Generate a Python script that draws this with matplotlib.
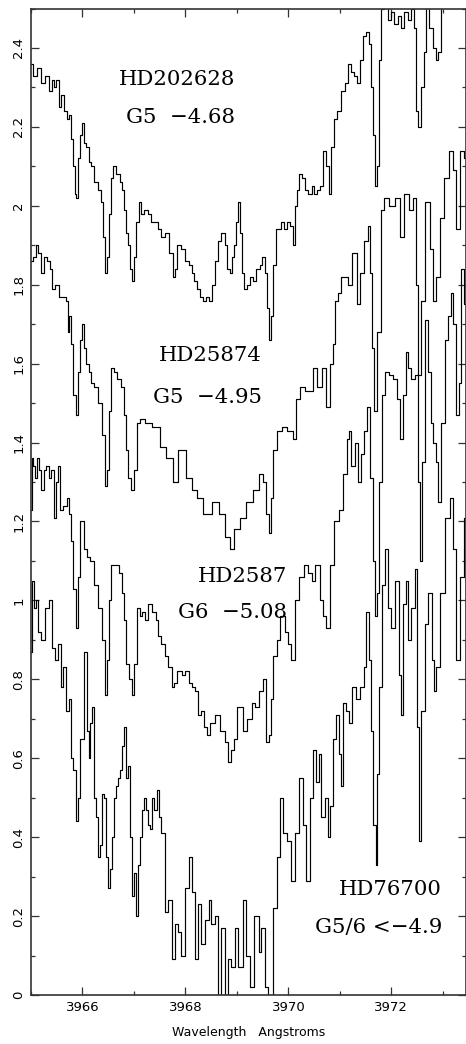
import numpy as np
import matplotlib
matplotlib.use("Agg")
from matplotlib import pyplot as plt
from matplotlib.ticker import MultipleLocator, FormatStrFormatter

# wavelength (Angstroms) and relative flux, one pair per star

wl_hd202628 = [3965.00, 3965.08, 3965.14, 3965.23, 3965.31, 3965.37, 3965.43, 3965.47, 3965.52, 3965.56,
               3965.62, 3965.66, 3965.72, 3965.76, 3965.80, 3965.83, 3965.87, 3965.89, 3965.93, 3965.97,
               3966.01, 3966.05, 3966.09, 3966.15, 3966.20, 3966.26, 3966.34, 3966.38, 3966.42, 3966.46,
               3966.50, 3966.53, 3966.57, 3966.63, 3966.69, 3966.75, 3966.79, 3966.83, 3966.86, 3966.90,
               3966.94, 3966.98, 3967.02, 3967.06, 3967.12, 3967.17, 3967.23, 3967.31, 3967.37, 3967.43,
               3967.50, 3967.56, 3967.64, 3967.72, 3967.78, 3967.82, 3967.87, 3967.95, 3968.03, 3968.09,
               3968.15, 3968.20, 3968.26, 3968.32, 3968.38, 3968.43, 3968.50, 3968.55, 3968.61, 3968.67,
               3968.73, 3968.79, 3968.84, 3968.88, 3968.92, 3968.96, 3969.00, 3969.04, 3969.08, 3969.12,
               3969.17, 3969.23, 3969.29, 3969.35, 3969.41, 3969.47, 3969.52, 3969.56, 3969.60, 3969.64,
               3969.67, 3969.72, 3969.78, 3969.83, 3969.89, 3969.95, 3970.01, 3970.07, 3970.11, 3970.15,
               3970.18, 3970.24, 3970.30, 3970.36, 3970.42, 3970.48, 3970.53, 3970.59, 3970.65, 3970.71,
               3970.75, 3970.81, 3970.86, 3970.92, 3970.98, 3971.06, 3971.12, 3971.19, 3971.25, 3971.31,
               3971.37, 3971.42, 3971.49, 3971.54, 3971.58, 3971.62, 3971.66, 3971.70, 3971.74, 3971.78,
               3971.83, 3971.89, 3971.97, 3972.03, 3972.09, 3972.17, 3972.22, 3972.28, 3972.36, 3972.42,
               3972.46, 3972.50, 3972.55, 3972.61, 3972.65, 3972.71, 3972.77, 3972.83, 3972.89, 3972.94,
               3973.00, 3973.08, 3973.17, 3973.29, 3973.45]
fx_hd202628 = [2.36, 2.33, 2.35, 2.31, 2.33, 2.29, 2.32, 2.30, 2.32, 2.25,
               2.28, 2.24, 2.22, 2.23, 2.17, 2.10, 2.03, 2.02, 2.12, 2.18,
               2.21, 2.16, 2.15, 2.11, 2.10, 2.06, 2.04, 2.01, 1.92, 1.83,
               1.87, 1.98, 2.07, 2.10, 2.08, 2.06, 2.04, 1.99, 1.93, 1.90,
               1.84, 1.81, 1.87, 1.96, 2.01, 1.98, 1.99, 1.98, 1.96, 1.96,
               1.94, 1.92, 1.93, 1.88, 1.82, 1.84, 1.90, 1.89, 1.86, 1.85,
               1.83, 1.81, 1.79, 1.77, 1.76, 1.77, 1.76, 1.80, 1.86, 1.91,
               1.93, 1.90, 1.84, 1.83, 1.87, 1.90, 1.96, 2.01, 1.93, 1.83,
               1.79, 1.80, 1.82, 1.81, 1.84, 1.85, 1.87, 1.83, 1.74, 1.66,
               1.72, 1.85, 1.94, 1.94, 1.96, 1.94, 1.96, 1.95, 1.90, 2.00,
               2.04, 2.08, 2.07, 2.04, 2.03, 2.05, 2.03, 2.04, 2.05, 2.14,
               2.10, 2.03, 2.15, 2.22, 2.24, 2.29, 2.31, 2.36, 2.34, 2.33,
               2.31, 2.37, 2.43, 2.44, 2.41, 2.30, 2.18, 2.05, 2.10, 2.37,
               2.50, 2.52, 2.47, 2.49, 2.46, 2.48, 2.45, 2.49, 2.47, 2.50,
               2.45, 2.24, 2.20, 2.30, 2.39, 2.52, 2.45, 2.40, 2.37, 2.39,
               2.52, 2.58, 2.60, 2.60, 2.60]

wl_hd25874 = [3965.00, 3965.06, 3965.12, 3965.17, 3965.23, 3965.29, 3965.33, 3965.39, 3965.43, 3965.50,
              3965.60, 3965.66, 3965.70, 3965.72, 3965.76, 3965.80, 3965.85, 3965.89, 3965.93, 3965.97,
              3966.01, 3966.05, 3966.09, 3966.15, 3966.20, 3966.26, 3966.34, 3966.40, 3966.46, 3966.50,
              3966.53, 3966.59, 3966.65, 3966.71, 3966.77, 3966.83, 3966.86, 3966.92, 3966.98, 3967.02,
              3967.08, 3967.16, 3967.25, 3967.45, 3967.56, 3967.70, 3967.80, 3967.93, 3968.09, 3968.18,
              3968.28, 3968.42, 3968.61, 3968.71, 3968.83, 3968.90, 3969.00, 3969.12, 3969.25, 3969.39,
              3969.47, 3969.54, 3969.60, 3969.64, 3969.68, 3969.74, 3969.83, 3969.93, 3970.03, 3970.13,
              3970.18, 3970.28, 3970.38, 3970.46, 3970.51, 3970.61, 3970.71, 3970.77, 3970.84, 3970.88,
              3970.94, 3971.00, 3971.06, 3971.14, 3971.19, 3971.29, 3971.37, 3971.43, 3971.52, 3971.56,
              3971.62, 3971.64, 3971.70, 3971.76, 3971.82, 3971.91, 3972.01, 3972.13, 3972.20, 3972.30,
              3972.38, 3972.46, 3972.50, 3972.55, 3972.61, 3972.71, 3972.79, 3972.84, 3972.90, 3972.98,
              3973.08, 3973.17, 3973.23, 3973.29, 3973.37, 3973.45]
fx_hd25874 = [1.86, 1.87, 1.90, 1.88, 1.83, 1.87, 1.86, 1.84, 1.79, 1.80,
              1.77, 1.77, 1.76, 1.68, 1.72, 1.65, 1.52, 1.47, 1.58, 1.66,
              1.70, 1.64, 1.60, 1.58, 1.55, 1.54, 1.50, 1.42, 1.29, 1.33,
              1.48, 1.59, 1.58, 1.56, 1.54, 1.47, 1.38, 1.31, 1.28, 1.33,
              1.45, 1.46, 1.45, 1.44, 1.39, 1.36, 1.30, 1.38, 1.31, 1.28,
              1.26, 1.22, 1.25, 1.22, 1.16, 1.13, 1.18, 1.21, 1.25, 1.28,
              1.32, 1.30, 1.22, 1.17, 1.26, 1.38, 1.43, 1.44, 1.43, 1.41,
              1.51, 1.54, 1.53, 1.53, 1.59, 1.54, 1.59, 1.49, 1.60, 1.65,
              1.76, 1.78, 1.82, 1.82, 1.80, 1.88, 1.75, 1.83, 1.91, 1.95,
              1.83, 1.64, 1.48, 1.68, 1.99, 2.02, 2.00, 2.02, 1.92, 2.03,
              1.99, 2.02, 1.80, 1.57, 1.76, 2.01, 1.89, 1.76, 1.82, 1.97,
              2.07, 2.14, 2.09, 1.94, 2.14, 2.12]

wl_hd2587 = [3965.00, 3965.02, 3965.06, 3965.10, 3965.14, 3965.17, 3965.23, 3965.27, 3965.31, 3965.37,
             3965.41, 3965.47, 3965.50, 3965.54, 3965.60, 3965.66, 3965.72, 3965.76, 3965.80, 3965.85,
             3965.89, 3965.93, 3965.99, 3966.05, 3966.11, 3966.17, 3966.20, 3966.26, 3966.34, 3966.40,
             3966.46, 3966.50, 3966.53, 3966.59, 3966.67, 3966.73, 3966.79, 3966.83, 3966.88, 3966.94,
             3966.98, 3967.02, 3967.08, 3967.14, 3967.19, 3967.25, 3967.31, 3967.39, 3967.45, 3967.50,
             3967.56, 3967.64, 3967.70, 3967.76, 3967.80, 3967.89, 3967.97, 3968.03, 3968.09, 3968.17,
             3968.22, 3968.28, 3968.33, 3968.38, 3968.44, 3968.53, 3968.63, 3968.71, 3968.81, 3968.86,
             3968.92, 3968.96, 3969.06, 3969.16, 3969.25, 3969.33, 3969.39, 3969.47, 3969.54, 3969.60,
             3969.64, 3969.68, 3969.74, 3969.80, 3969.89, 3969.97, 3970.03, 3970.09, 3970.17, 3970.26,
             3970.34, 3970.42, 3970.48, 3970.57, 3970.65, 3970.71, 3970.77, 3970.84, 3970.94, 3971.04,
             3971.10, 3971.16, 3971.19, 3971.25, 3971.33, 3971.39, 3971.45, 3971.50, 3971.56, 3971.62,
             3971.66, 3971.70, 3971.74, 3971.78, 3971.84, 3971.91, 3971.99, 3972.07, 3972.15, 3972.20,
             3972.26, 3972.30, 3972.36, 3972.42, 3972.50, 3972.53, 3972.57, 3972.63, 3972.69, 3972.75,
             3972.79, 3972.84, 3972.88, 3972.94, 3973.00, 3973.08, 3973.14, 3973.17, 3973.23, 3973.29,
             3973.33, 3973.39, 3973.45]
fx_hd2587 = [1.23, 1.36, 1.34, 1.31, 1.36, 1.33, 1.28, 1.33, 1.34, 1.31,
             1.33, 1.21, 1.30, 1.34, 1.23, 1.24, 1.26, 1.22, 1.15, 1.03,
             0.93, 1.06, 1.20, 1.13, 1.11, 1.10, 1.10, 1.04, 0.98, 0.90,
             0.76, 0.85, 1.00, 1.09, 1.09, 1.07, 1.02, 0.95, 0.84, 0.80,
             0.76, 0.84, 0.98, 0.96, 0.97, 0.95, 0.99, 0.97, 0.95, 0.91,
             0.89, 0.86, 0.83, 0.78, 0.79, 0.82, 0.81, 0.82, 0.79, 0.78,
             0.77, 0.71, 0.72, 0.68, 0.66, 0.69, 0.71, 0.67, 0.64, 0.59,
             0.62, 0.65, 0.73, 0.67, 0.70, 0.74, 0.73, 0.77, 0.80, 0.64,
             0.66, 0.75, 0.86, 0.90, 0.96, 0.92, 0.89, 0.85, 1.00, 1.06,
             1.09, 1.07, 1.05, 1.09, 1.00, 0.96, 0.93, 1.09, 1.20, 1.23,
             1.32, 1.41, 1.43, 1.34, 1.40, 1.30, 1.37, 1.43, 1.49, 1.31,
             1.10, 0.96, 1.02, 1.30, 1.52, 1.58, 1.57, 1.56, 1.51, 1.41,
             1.52, 1.63, 1.59, 1.56, 1.57, 1.30, 1.10, 1.35, 1.71, 1.58,
             1.45, 1.40, 1.35, 1.25, 1.45, 1.66, 1.72, 1.78, 1.70, 1.47,
             1.55, 1.84, 1.75]

wl_hd76700 = [3965.00, 3965.04, 3965.08, 3965.12, 3965.17, 3965.23, 3965.31, 3965.37, 3965.43, 3965.50,
              3965.56, 3965.60, 3965.66, 3965.70, 3965.76, 3965.80, 3965.85, 3965.89, 3965.93, 3965.99,
              3966.05, 3966.11, 3966.13, 3966.17, 3966.20, 3966.24, 3966.28, 3966.32, 3966.36, 3966.40,
              3966.44, 3966.48, 3966.51, 3966.55, 3966.59, 3966.63, 3966.67, 3966.71, 3966.75, 3966.79,
              3966.83, 3966.86, 3966.90, 3966.94, 3966.98, 3967.02, 3967.06, 3967.10, 3967.14, 3967.17,
              3967.21, 3967.25, 3967.29, 3967.33, 3967.37, 3967.41, 3967.47, 3967.50, 3967.56, 3967.64,
              3967.70, 3967.76, 3967.83, 3967.89, 3967.95, 3968.03, 3968.09, 3968.15, 3968.22, 3968.28,
              3968.34, 3968.42, 3968.48, 3968.53, 3968.61, 3968.67, 3968.73, 3968.81, 3968.86, 3968.92,
              3969.00, 3969.06, 3969.16, 3969.21, 3969.29, 3969.39, 3969.45, 3969.50, 3969.58, 3969.62,
              3969.68, 3969.74, 3969.80, 3969.87, 3969.93, 3970.03, 3970.09, 3970.17, 3970.26, 3970.32,
              3970.38, 3970.46, 3970.51, 3970.57, 3970.61, 3970.67, 3970.75, 3970.79, 3970.84, 3970.90,
              3970.96, 3971.00, 3971.04, 3971.08, 3971.16, 3971.21, 3971.27, 3971.35, 3971.43, 3971.49,
              3971.54, 3971.58, 3971.62, 3971.68, 3971.72, 3971.74, 3971.78, 3971.84, 3971.91, 3971.97,
              3972.03, 3972.11, 3972.17, 3972.20, 3972.26, 3972.30, 3972.36, 3972.42, 3972.50, 3972.51,
              3972.55, 3972.61, 3972.69, 3972.75, 3972.81, 3972.84, 3972.90, 3973.00, 3973.10, 3973.17,
              3973.23, 3973.29, 3973.37, 3973.45]
fx_hd76700 = [0.87, 1.05, 0.98, 1.00, 0.92, 0.90, 0.98, 1.00, 0.88, 0.85,
              0.89, 0.78, 0.83, 0.72, 0.75, 0.60, 0.57, 0.44, 0.50, 0.65,
              0.87, 0.67, 0.60, 0.69, 0.73, 0.50, 0.45, 0.35, 0.38, 0.51,
              0.50, 0.35, 0.27, 0.32, 0.40, 0.50, 0.53, 0.55, 0.57, 0.63,
              0.68, 0.55, 0.58, 0.40, 0.25, 0.31, 0.20, 0.33, 0.40, 0.47,
              0.50, 0.47, 0.43, 0.42, 0.50, 0.47, 0.52, 0.45, 0.41, 0.21,
              0.24, 0.09, 0.18, 0.16, 0.10, 0.27, 0.35, 0.26, 0.09, 0.23,
              0.13, 0.19, 0.24, 0.18, 0.20, -0.02, 0.17, -0.02, 0.09, 0.07,
              0.17, 0.07, 0.24, 0.10, 0.02, 0.20, 0.11, 0.17, 0.02, -0.05,
              -0.05, 0.22, 0.35, 0.50, 0.41, 0.39, 0.29, 0.41, 0.55, 0.43,
              0.29, 0.50, 0.62, 0.54, 0.61, 0.45, 0.50, 0.40, 0.48, 0.65,
              0.71, 0.61, 0.53, 0.74, 0.72, 0.69, 0.78, 0.75, 0.78, 0.83,
              0.97, 0.85, 0.67, 0.43, 0.33, 0.56, 0.78, 1.04, 1.13, 0.98,
              0.93, 1.05, 0.81, 0.71, 0.99, 1.05, 0.90, 0.98, 1.08, 0.68,
              0.39, 0.72, 0.94, 1.02, 0.85, 0.77, 0.83, 1.02, 1.21, 1.26,
              1.13, 0.85, 1.06, 1.21]

# star name, spectral type / activity, right edge of the text block, y of both lines
labels = [("HD202628", "G5  \u22124.68", 3968.96, 2.32, 2.225),
          ("HD25874", "G5  \u22124.95", 3969.49, 1.62, 1.515),
          ("HD2587", "G6  \u22125.08", 3969.97, 1.06, 0.97),
          ("HD76700", "G5/6 <\u22124.9", 3972.98, 0.268, 0.172)]

fig = plt.figure(figsize=(4.66, 10.44), dpi=100)
ax = fig.add_axes([31/466, 49/1044, 435/466, 986.5/1044])

for wl, fx in [(wl_hd202628, fx_hd202628), (wl_hd25874, fx_hd25874),
               (wl_hd2587, fx_hd2587), (wl_hd76700, fx_hd76700)]:
    ax.plot(wl, fx, drawstyle='steps-mid', color='k', lw=0.85)

for name, sptype, xr, y1, y2 in labels:
    ax.text(xr, y1, name, ha='right', va='center', family='DejaVu Serif', fontsize=15.3)
    ax.text(xr, y2, sptype, ha='right', va='center', family='DejaVu Serif', fontsize=15.3)

ax.set_xlim(3965.0, 3973.45)
ax.set_ylim(0, 2.5)
ax.xaxis.set_major_locator(MultipleLocator(2))
ax.xaxis.set_minor_locator(MultipleLocator(1))
ax.yaxis.set_major_locator(MultipleLocator(0.2))
ax.yaxis.set_minor_locator(MultipleLocator(0.1))
ax.yaxis.set_major_formatter(FormatStrFormatter('%g'))
ax.tick_params(which='both', direction='in', top=True, right=True, color='#333333', width=0.9)
ax.tick_params(which='major', length=6, labelsize=9.5, pad=4)
ax.tick_params(which='minor', length=3)
for lab in ax.get_yticklabels():
    lab.set_rotation(90)
    lab.set_va('center')
for sp in ax.spines.values():
    sp.set_color('#333333')
    sp.set_linewidth(1.2)

ax.set_xlabel("Wavelength   Angstroms", fontsize=9, labelpad=9)

fig.savefig("out.png", dpi=100)
